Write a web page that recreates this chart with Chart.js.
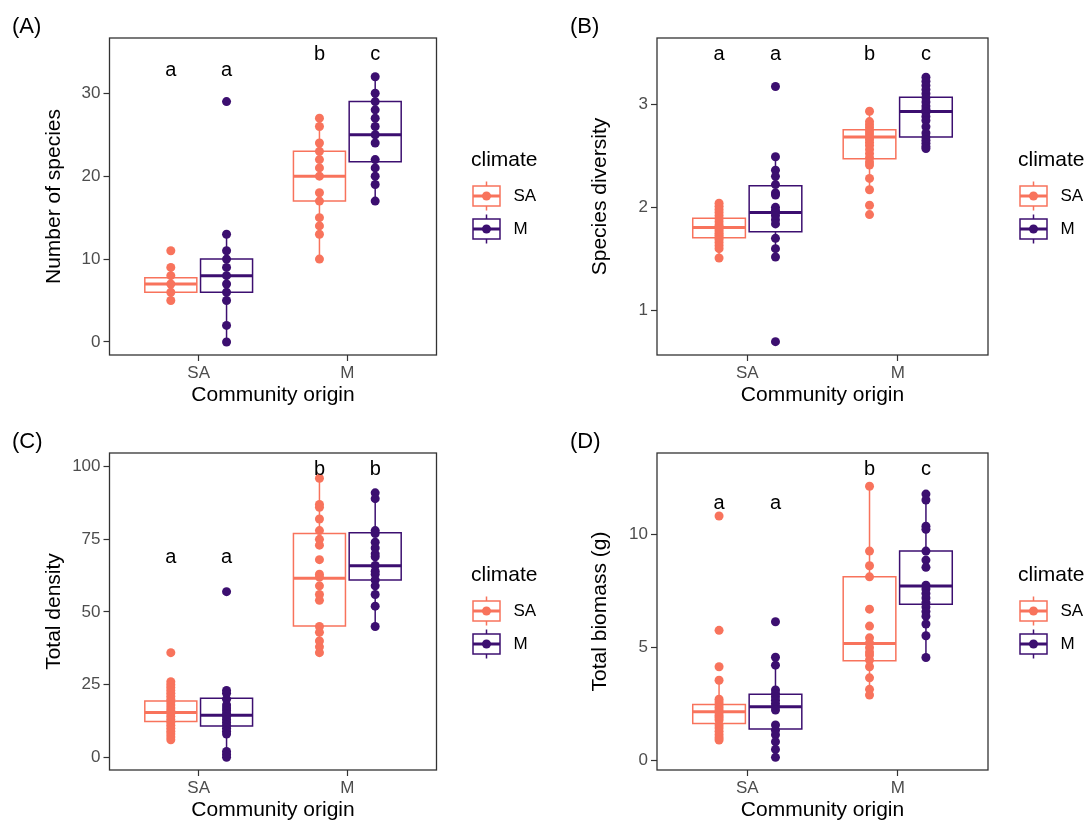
<!DOCTYPE html>
<html><head><meta charset="utf-8">
<script src="https://cdn.jsdelivr.net/npm/chart.js@4.4.1/dist/chart.umd.min.js"></script>
<style>
html,body{margin:0;padding:0;background:#fff;}
#wrap{position:relative;width:1090px;height:825px;overflow:hidden;background:#fff;}
canvas{position:absolute;}
</style></head><body><div id="wrap">
<canvas id="cA" width="545" height="410" style="left:0;top:0"></canvas>
<canvas id="cB" width="545" height="410" style="left:545px;top:0"></canvas>
<canvas id="cC" width="545" height="410" style="left:0;top:415px"></canvas>
<canvas id="cD" width="545" height="410" style="left:545px;top:415px"></canvas>
</div>
<script>
// ---------- data ----------
const ORIGINS = ["SA", "M"];
const CLIMATES = ["SA", "M"];
const TAGS = ["(A)", "(B)", "(C)", "(D)"];
const Y_TITLES = ["Number of species", "Species diversity", "Total density", "Total biomass (g)"];
const X_TITLE = "Community origin";
const LEGEND_TITLE = "climate";

const A_TICKS = [0, 10, 20, 30];
const B_TICKS = [1, 2, 3];
const C_TICKS = [0, 25, 50, 75, 100];
const D_TICKS = [0, 5, 10];

// points: origin_climate ; stats: [lower whisker, q1, median, q3, upper whisker]
const A_SA_SA = [11, 9, 8, 7, 6, 5];
const A_SA_M  = [29, 13, 11, 10, 9, 8, 7, 6, 5, 2, 0];
const A_M_SA  = [27, 26, 24, 23, 22, 21, 20, 18, 17, 15, 14, 13, 10];
const A_M_M   = [32, 30, 29, 28, 27, 26, 25, 24, 22, 21, 20, 19, 17];
const A_STAT_SA_SA = [5, 6, 7, 7.75, 9];
const A_STAT_SA_M  = [0, 6, 8, 10, 13];
const A_STAT_M_SA  = [10, 17, 20, 23, 27];
const A_STAT_M_M   = [17, 21.75, 25, 29, 32];
const A_LETTERS = ["a", "a", "b", "c"];
const A_LETTER_Y = [32.05, 32.05, 34, 34];

const B_SA_SA = [2.04, 2.01, 1.98, 1.95, 1.92, 1.89, 1.86, 1.83, 1.81, 1.79, 1.77, 1.75, 1.73, 1.71, 1.69, 1.66, 1.63, 1.60, 1.51];
const B_SA_M  = [3.17, 2.49, 2.36, 2.30, 2.22, 2.14, 2.12, 2.00, 1.97, 1.95, 1.92, 1.88, 1.84, 1.70, 1.60, 1.52, 0.70];
const B_M_SA  = [2.93, 2.83, 2.80, 2.77, 2.74, 2.71, 2.68, 2.66, 2.63, 2.60, 2.56, 2.52, 2.48, 2.44, 2.41, 2.28, 2.17, 2.02, 1.93];
const B_M_M   = [3.26, 3.22, 3.18, 3.14, 3.10, 3.06, 3.02, 2.98, 2.95, 2.92, 2.88, 2.84, 2.78, 2.72, 2.68, 2.65, 2.62, 2.59, 2.57];
const B_STAT_SA_SA = [1.51, 1.706, 1.806, 1.894, 2.04];
const B_STAT_SA_M  = [1.52, 1.765, 1.95, 2.21, 2.49];
const B_STAT_M_SA  = [2.17, 2.47, 2.68, 2.75, 2.93];
const B_STAT_M_M   = [2.57, 2.68, 2.927, 3.066, 3.26];
const B_LETTERS = ["a", "a", "b", "c"];
const B_LETTER_Y = [3.427, 3.427, 3.427, 3.427];

const C_SA_SA = [36, 26, 25, 24, 23, 22, 21, 20, 19, 18, 17, 16, 15, 14, 13, 12, 11, 10, 9, 8, 7, 6];
const C_SA_M  = [57, 23, 22, 20, 18, 17, 16, 15, 14, 13, 12, 11, 10, 9, 8, 2, 1, 0];
const C_M_SA  = [96, 87, 86, 82, 78, 75, 73, 68, 63, 62, 59, 56, 54, 45, 43, 40, 38, 36];
const C_M_M   = [91, 89, 78, 77, 74, 72, 70, 69, 66, 64, 63, 61, 59, 56, 52, 45];
const C_STAT_SA_SA = [6, 12.3, 15.4, 19.4, 26];
const C_STAT_SA_M  = [0, 10.8, 14.5, 20.3, 23];
const C_STAT_M_SA  = [36, 45.2, 61.6, 77, 96];
const C_STAT_M_M   = [45, 61, 65.9, 77.3, 91];
const C_LETTERS = ["a", "a", "b", "b"];
const C_LETTER_Y = [66.9, 66.9, 97.1, 97.1];

const D_SA_SA = [10.83, 5.77, 4.16, 3.56, 2.72, 2.60, 2.48, 2.36, 2.24, 2.12, 2.00, 1.90, 1.80, 1.58, 1.45, 1.30, 1.15, 1.02, 0.92];
const D_SA_M  = [6.15, 4.58, 4.23, 3.13, 2.98, 2.83, 2.68, 2.53, 2.39, 2.24, 1.58, 1.35, 1.15, 0.84, 0.50, 0.15];
const D_M_SA  = [12.15, 9.28, 8.63, 8.14, 6.71, 5.96, 5.44, 5.21, 5.00, 4.81, 4.68, 4.46, 4.16, 3.67, 3.16, 2.91];
const D_M_M   = [11.80, 11.54, 10.38, 10.24, 9.28, 8.88, 8.56, 7.77, 7.60, 7.40, 7.20, 7.00, 6.80, 6.60, 6.40, 6.05, 5.53, 4.57];
const D_STAT_SA_SA = [0.92, 1.65, 2.17, 2.49, 3.56];
const D_STAT_SA_M  = [0.15, 1.40, 2.39, 2.94, 4.58];
const D_STAT_M_SA  = [2.91, 4.42, 5.19, 8.14, 12.15];
const D_STAT_M_M   = [4.57, 6.93, 7.73, 9.28, 11.80];
const D_LETTERS = ["a", "a", "b", "c"];
const D_LETTER_Y = [11.12, 11.12, 12.64, 12.64];

// ---------- style / layout ----------
const FONT = "'Liberation Sans', Arial, Helvetica, sans-serif";
Chart.defaults.font.family = FONT;
const COLORS = ["#F8735C", "#3C0F70"];
const DODGE = 0.1875, HALF_BOX = 0.175;
const CW = 545, CH = 410, PLOT_TOP = 38, PLOT_BOTTOM = 355;
const PT_R = 4.5, BOX_LW = 1.5, MED_LW = 3;

const PANELS = [
  {id: "cA", tag: TAGS[0], yTitle: Y_TITLES[0], ticks: A_TICKS, range: [-1.57, 36.67],
   values: [[A_SA_SA, A_SA_M], [A_M_SA, A_M_M]],
   stats: [[A_STAT_SA_SA, A_STAT_SA_M], [A_STAT_M_SA, A_STAT_M_M]],
   letters: A_LETTERS, letterY: A_LETTER_Y,
   L: {tagX: 12, plotLeft: 109.5, plotRight: 436.5, legendLeft: 471, yTitleX: 54}},
  {id: "cB", tag: TAGS[1], yTitle: Y_TITLES[1], ticks: B_TICKS, range: [0.571, 3.639],
   values: [[B_SA_SA, B_SA_M], [B_M_SA, B_M_M]],
   stats: [[B_STAT_SA_SA, B_STAT_SA_M], [B_STAT_M_SA, B_STAT_M_M]],
   letters: B_LETTERS, letterY: B_LETTER_Y,
   L: {tagX: 25, plotLeft: 112, plotRight: 443, legendLeft: 473, yTitleX: 55.5}},
  {id: "cC", tag: TAGS[2], yTitle: Y_TITLES[2], ticks: C_TICKS, range: [-4.37, 104.7],
   values: [[C_SA_SA, C_SA_M], [C_M_SA, C_M_M]],
   stats: [[C_STAT_SA_SA, C_STAT_SA_M], [C_STAT_M_SA, C_STAT_M_M]],
   letters: C_LETTERS, letterY: C_LETTER_Y,
   L: {tagX: 12, plotLeft: 109.5, plotRight: 436.5, legendLeft: 471, yTitleX: 54}},
  {id: "cD", tag: TAGS[3], yTitle: Y_TITLES[3], ticks: D_TICKS, range: [-0.41, 13.62],
   values: [[D_SA_SA, D_SA_M], [D_M_SA, D_M_M]],
   stats: [[D_STAT_SA_SA, D_STAT_SA_M], [D_STAT_M_SA, D_STAT_M_M]],
   letters: D_LETTERS, letterY: D_LETTER_Y,
   L: {tagX: 25, plotLeft: 112, plotRight: 443, legendLeft: 473, yTitleX: 55.5}}
];

function makeGlyph(color) {
  const c = document.createElement("canvas");
  c.width = 60; c.height = 40;
  const g = c.getContext("2d");
  const cx = 20.5, cy = 20;
  g.strokeStyle = color; g.lineWidth = BOX_LW;
  g.beginPath();
  g.moveTo(cx, cy - 14.5); g.lineTo(cx, cy - 10);
  g.moveTo(cx, cy + 10); g.lineTo(cx, cy + 14.5);
  g.stroke();
  g.strokeRect(cx - 13.5, cy - 10, 27, 20);
  g.lineWidth = MED_LW;
  g.beginPath(); g.moveTo(cx - 13.5, cy); g.lineTo(cx + 13.5, cy); g.stroke();
  g.fillStyle = color;
  g.beginPath(); g.arc(cx, cy, PT_R, 0, Math.PI * 2); g.fill();
  return c;
}
const GLYPHS = COLORS.map(makeGlyph);

const framePlugin = {
  id: "frame",
  afterDatasetsDraw(chart) {
    const {ctx, chartArea: a} = chart;
    ctx.save();
    ctx.strokeStyle = "#333333"; ctx.lineWidth = 1.3;
    ctx.strokeRect(a.left, a.top, a.right - a.left, a.bottom - a.top);
    ctx.restore();
  }
};

function groupX(oi, ci) { return (oi + 1) + (ci === 0 ? -DODGE : DODGE); }

function buildPanel(p) {
  const L = p.L;
  const datasets = [];
  const letterX = [];
  ORIGINS.forEach((o, oi) => {
    CLIMATES.forEach((c, ci) => {
      const gx = groupX(oi, ci);
      letterX.push(gx);
      const col = COLORS[ci];
      const [lo, q1, med, q3, hi] = p.stats[oi][ci];
      datasets.push({
        label: c, data: p.values[oi][ci].map(v => ({x: gx, y: v})),
        showLine: false, pointRadius: PT_R, pointHoverRadius: PT_R, pointBorderWidth: 0,
        pointBackgroundColor: col, backgroundColor: col, borderColor: col, order: 0
      });
      datasets.push({
        label: c + " median", data: [{x: gx - HALF_BOX, y: med}, {x: gx + HALF_BOX, y: med}],
        showLine: true, pointRadius: 0, borderColor: col, borderWidth: MED_LW, borderCapStyle: "butt",
        fill: false, tension: 0, order: 1
      });
      datasets.push({
        label: c + " box", data: [{x: gx - HALF_BOX, y: q1}, {x: gx + HALF_BOX, y: q1}, {x: gx + HALF_BOX, y: q3}, {x: gx - HALF_BOX, y: q3}, {x: gx - HALF_BOX, y: q1}],
        showLine: true, pointRadius: 0, borderColor: col, borderWidth: BOX_LW, borderCapStyle: "square",
        borderJoinStyle: "miter", fill: false, tension: 0, order: 2
      });
      datasets.push({
        label: c + " whisker", data: [{x: gx, y: lo}, {x: gx, y: q1}, {x: gx, y: null}, {x: gx, y: q3}, {x: gx, y: hi}],
        showLine: true, spanGaps: false, pointRadius: 0, borderColor: col, borderWidth: BOX_LW,
        fill: false, tension: 0, order: 3
      });
    });
  });

  const lettersPlugin = {
    id: "letters",
    afterDatasetsDraw(chart) {
      const {ctx} = chart; const xs = chart.scales.x, ys = chart.scales.y;
      ctx.save();
      ctx.font = "20px " + FONT; ctx.fillStyle = "#000";
      ctx.textAlign = "center"; ctx.textBaseline = "alphabetic";
      p.letters.forEach((t, i) => ctx.fillText(t, xs.getPixelForValue(letterX[i]), ys.getPixelForValue(p.letterY[i])));
      ctx.restore();
    }
  };
  const legendWidthPlugin = {
    id: "legendWidth",
    beforeLayout(chart) {
      const lg = chart.legend;
      if (lg && !lg.__patched) {
        const f = lg.fit.bind(lg);
        lg.fit = function () { f(); this.width = CW - L.legendLeft; };
        lg.__patched = true;
      }
    }
  };

  const tickFont = {size: 17};
  new Chart(document.getElementById(p.id), {
    type: "scatter",
    data: {datasets},
    options: {
      responsive: false, animation: false, devicePixelRatio: 1, events: [],
      layout: {padding: {left: L.tagX, top: 0, right: 0, bottom: 0}},
      plugins: {
        tooltip: {enabled: false},
        title: {display: true, text: p.tag, align: "start", color: "#000",
                font: {size: 22, lineHeight: 1, weight: "normal"}, padding: {top: 16, bottom: 0}},
        legend: {
          display: true, position: "right", align: "center", fullSize: false,
          title: {display: true, text: LEGEND_TITLE, position: "start", color: "#000",
                  font: {size: 21, lineHeight: 1}, padding: {top: 10, bottom: 1}},
          labels: {
            usePointStyle: true, pointStyleWidth: 18, boxHeight: 17, padding: 16,
            color: "#000", font: {size: 17},
            generateLabels: () => CLIMATES.map((c, i) => ({
              text: c, pointStyle: GLYPHS[i], fillStyle: COLORS[i], strokeStyle: COLORS[i],
              lineWidth: 0, hidden: false, datasetIndex: i
            }))
          }
        }
      },
      scales: {
        x: {
          type: "linear", min: 0.4, max: 2.6, bounds: "data",
          afterBuildTicks: s => { s.ticks = ORIGINS.map((_, i) => ({value: i + 1})); },
          afterFit: s => { s.height = CH - PLOT_BOTTOM; },
          ticks: {font: tickFont, color: "#4D4D4D", padding: 2, maxRotation: 0, autoSkip: false,
                  callback: v => ORIGINS[Math.round(v) - 1]},
          grid: {display: true, drawOnChartArea: false, drawTicks: true, tickLength: 6, tickColor: "#333333", tickWidth: 1.2},
          border: {display: false},
          title: {display: true, text: X_TITLE, color: "#000", font: {size: 21, lineHeight: 1}, padding: {top: 0, bottom: 4}}
        },
        y: {
          type: "linear", min: p.range[0], max: p.range[1], bounds: "data",
          afterBuildTicks: s => { s.ticks = p.ticks.map(v => ({value: v})); },
          afterFit: s => { s.width = L.plotLeft - L.tagX; },
          ticks: {font: tickFont, color: "#4D4D4D", padding: 3, callback: v => String(v)},
          grid: {display: true, drawOnChartArea: false, drawTicks: true, tickLength: 6, tickColor: "#333333", tickWidth: 1.2},
          border: {display: false},
          title: {display: true, text: p.yTitle, color: "#000", font: {size: 21, lineHeight: 1},
                  padding: {top: L.yTitleX - L.tagX - 10.5, bottom: 0}}
        },
        yr: {
          type: "linear", position: "right", display: true,
          grid: {display: false, drawTicks: false}, ticks: {display: false}, border: {display: false},
          afterFit: s => { s.width = L.legendLeft - L.plotRight; }
        }
      }
    },
    plugins: [framePlugin, lettersPlugin, legendWidthPlugin]
  });
}
PANELS.forEach(buildPanel);
</script>
</body></html>
